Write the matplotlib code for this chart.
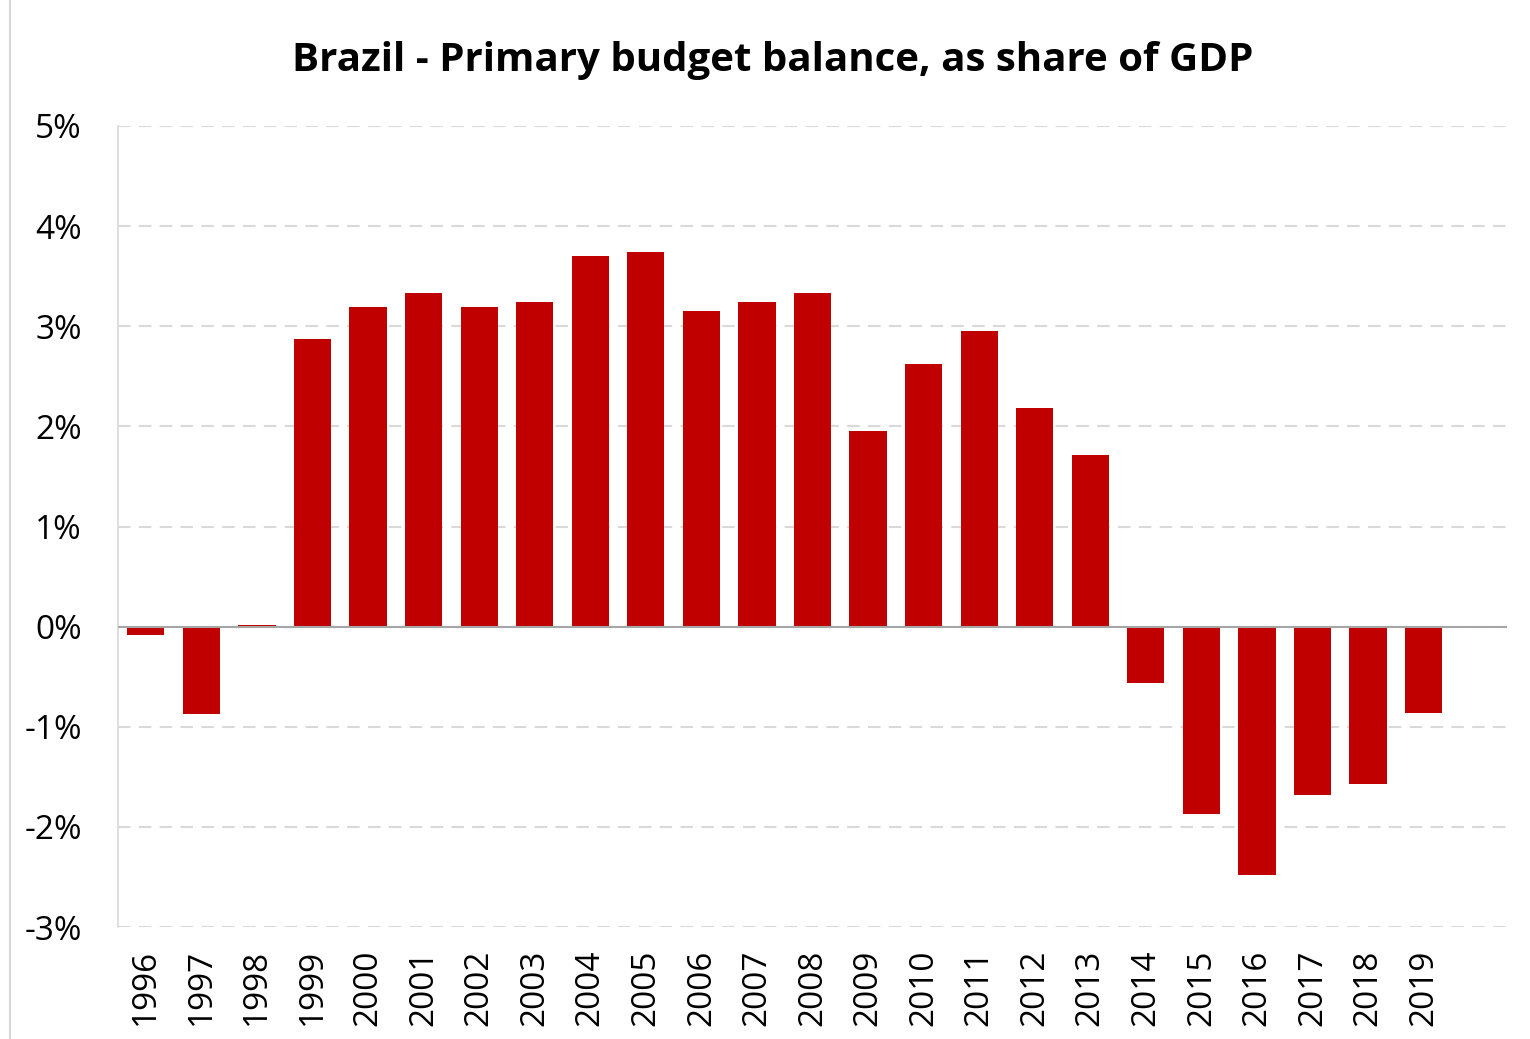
import numpy as np
import matplotlib.pyplot as plt
from matplotlib.lines import Line2D
from matplotlib.ticker import FuncFormatter

years = [str(y) for y in range(1996, 2020)]
balance = [-0.08, -0.87, 0.02, 2.87, 3.19, 3.33, 3.19, 3.24, 3.70, 3.74,
           3.15, 3.24, 3.33, 1.95, 2.62, 2.95, 2.18, 1.71, -0.56, -1.87,
           -2.48, -1.68, -1.57, -0.86]

plt.rcParams['font.family'] = ['Open Sans', 'DejaVu Sans']

fig = plt.figure(figsize=(15.3, 10.39), dpi=100)
ax = fig.add_axes([118 / 1530, 1 - 927 / 1039, (1507 - 118) / 1530, (927 - 126) / 1039])

x = np.arange(len(years))
ax.bar(x, balance, width=0.67, color='#c00000', zorder=3)

ax.set_xlim(-0.5, len(years) + 0.5)
ax.set_ylim(-3, 5)
ax.set_yticks(np.arange(-3, 6, 1))
ax.yaxis.set_major_formatter(FuncFormatter(lambda v, p: f'{v:.0f}%'))
ax.set_xticks(x)
ax.set_xticklabels(years, rotation=90)
ax.tick_params(axis='both', length=0, labelsize=24, colors='black')
ax.tick_params(axis='y', pad=26)
ax.tick_params(axis='x', pad=16)

ax.grid(axis='y', color='#d9d9d9', linestyle=(0, (6, 4)), linewidth=1.5, zorder=0)
ax.axhline(0, color='#a6a6a6', linewidth=1.5, zorder=4)
for side in ['top', 'right', 'bottom']:
    ax.spines[side].set_visible(False)
ax.spines['left'].set_color('#d9d9d9')
ax.spines['left'].set_linewidth(1.2)

fig.text(773 / 1530, 1 - 60 / 1039, 'Brazil - Primary budget balance, as share of GDP',
         ha='center', va='center', fontsize=29, fontweight='bold')

# thin frame edge on the left
fig.add_artist(Line2D([10 / 1530, 10 / 1530], [0, 1], color='#d0d0d0', linewidth=1.2))

fig.savefig('out.png', dpi=100)
